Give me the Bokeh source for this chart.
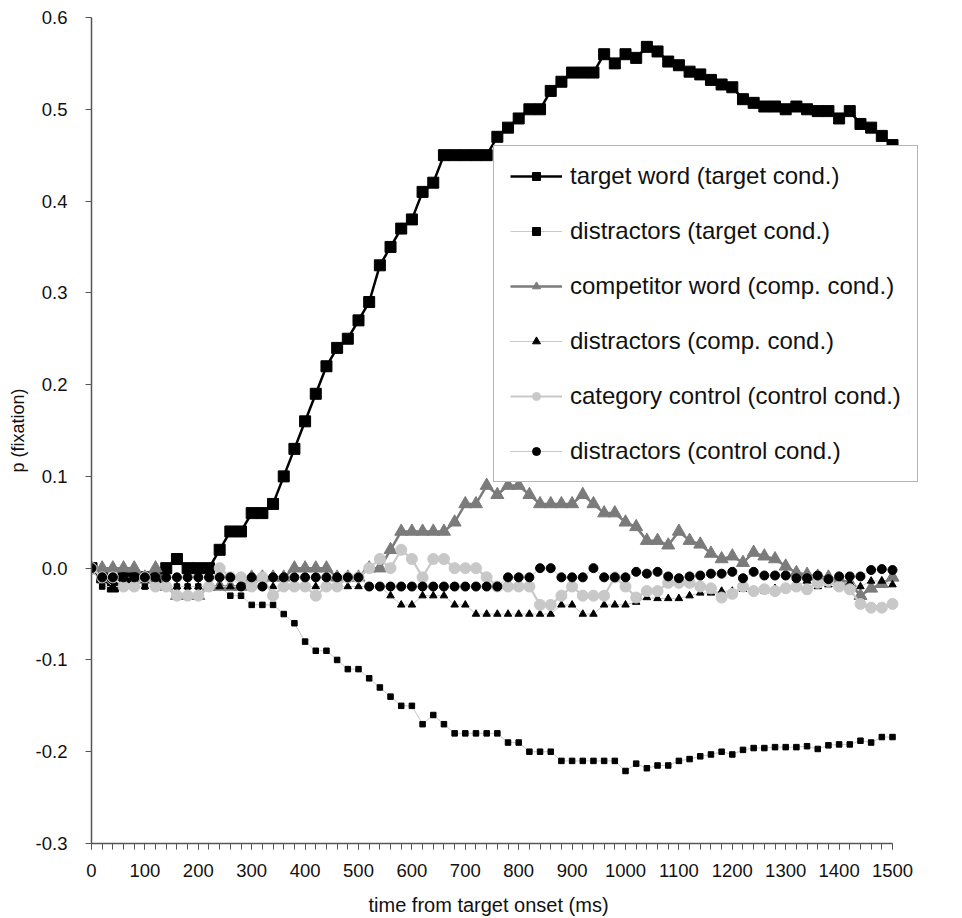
from bokeh.plotting import figure
from bokeh.models import Range1d, FixedTicker, PrintfTickFormatter, Legend, LegendItem, Title
from bokeh.embed import file_html
from bokeh.resources import INLINE

# ---------------- data ----------------
time_ms = [0, 20, 40, 60, 80, 100, 120, 140, 160, 180, 200, 220,
           240, 260, 280, 300, 320, 340, 360, 380, 400, 420, 440, 460, 480, 500,
           520, 540, 560, 580, 600, 620, 640, 660, 680, 700, 720, 740,
           760, 780, 800, 820, 840, 860, 880, 900, 920, 940, 960, 980, 1000,
           1020, 1040, 1060, 1080, 1100, 1120, 1140, 1160, 1180, 1200, 1220, 1240,
           1260, 1280, 1300, 1320, 1340, 1360, 1380, 1400, 1420, 1440, 1460, 1480, 1500]

target_word = [0.0, -0.01, -0.02, -0.01, -0.01, -0.01, -0.01, 0.0, 0.01, 0.0, 0.0, 0.0,
               0.02, 0.04, 0.04, 0.06, 0.06, 0.07, 0.10, 0.13, 0.16, 0.19, 0.22, 0.24, 0.25, 0.27,
               0.29, 0.33, 0.35, 0.37, 0.38, 0.41, 0.42, 0.45, 0.45, 0.45, 0.45, 0.45,
               0.47, 0.48, 0.49, 0.50, 0.50, 0.52, 0.53, 0.54, 0.54, 0.54, 0.56, 0.55, 0.56,
               0.556, 0.568, 0.563, 0.552, 0.548, 0.541, 0.538, 0.532, 0.527, 0.524, 0.511, 0.507,
               0.503, 0.503, 0.500, 0.503, 0.500, 0.498, 0.498, 0.490, 0.498, 0.484, 0.480, 0.471, 0.461]

target_distractors = [0.0, -0.02, -0.02, -0.02, -0.02, -0.02, -0.02, -0.02, -0.02, -0.02, -0.02, -0.02,
                      -0.02, -0.03, -0.03, -0.04, -0.04, -0.04, -0.05, -0.06, -0.08, -0.09, -0.09, -0.10, -0.11, -0.11,
                      -0.12, -0.13, -0.14, -0.15, -0.15, -0.17, -0.16, -0.17, -0.18, -0.18, -0.18, -0.18,
                      -0.18, -0.19, -0.19, -0.20, -0.20, -0.20, -0.21, -0.21, -0.21, -0.21, -0.21, -0.21, -0.221,
                      -0.213, -0.218, -0.215, -0.215, -0.210, -0.208, -0.205, -0.203, -0.200, -0.203, -0.198, -0.196,
                      -0.196, -0.195, -0.195, -0.195, -0.194, -0.197, -0.193, -0.192, -0.192, -0.188, -0.190, -0.184, -0.184]

competitor_word = [0.0, 0.0, 0.0, 0.0, 0.0, -0.01, 0.0, -0.02, -0.03, -0.03, -0.03, -0.02,
                   -0.02, -0.02, -0.02, -0.01, -0.01, -0.01, -0.01, 0.0, 0.0, 0.0, 0.0, -0.01, -0.01, -0.01,
                   0.0, 0.0, 0.02, 0.04, 0.04, 0.04, 0.04, 0.04, 0.05, 0.07, 0.07, 0.09,
                   0.08, 0.09, 0.09, 0.08, 0.07, 0.07, 0.07, 0.07, 0.08, 0.07, 0.06, 0.06, 0.05,
                   0.045, 0.03, 0.03, 0.025, 0.04, 0.03, 0.026, 0.016, 0.01, 0.013, 0.006, 0.017,
                   0.013, 0.01, 0.002, -0.005, -0.007, -0.009, -0.01, -0.012, -0.016, -0.03, -0.022, -0.017, -0.01]

comp_distractors = [0.0, -0.01, -0.02, -0.02, -0.02, -0.02, -0.02, -0.02, -0.02, -0.02, -0.02, -0.02,
                    -0.02, -0.02, -0.02, -0.02, -0.02, -0.02, -0.02, -0.02, -0.02, -0.02, -0.02, -0.02, -0.02, -0.02,
                    -0.02, -0.02, -0.03, -0.04, -0.04, -0.03, -0.03, -0.03, -0.04, -0.04, -0.05, -0.05,
                    -0.05, -0.05, -0.05, -0.05, -0.05, -0.05, -0.04, -0.04, -0.05, -0.05, -0.04, -0.04, -0.04,
                    -0.037, -0.032, -0.033, -0.033, -0.033, -0.030, -0.027, -0.027, -0.025, -0.025, -0.023, -0.024,
                    -0.025, -0.022, -0.021, -0.020, -0.014, -0.020, -0.018, -0.016, -0.016, -0.020, -0.014, -0.014, -0.018]

category_control = [0.0, -0.01, -0.01, -0.02, -0.02, -0.01, -0.02, -0.02, -0.03, -0.03, -0.03, -0.02,
                    0.0, -0.01, -0.01, -0.02, -0.01, -0.03, -0.02, -0.02, -0.02, -0.03, -0.02, -0.02, -0.01, -0.01,
                    0.0, 0.01, 0.0, 0.02, 0.01, -0.01, 0.01, 0.01, 0.0, 0.0, 0.0, -0.01,
                    -0.02, -0.02, -0.02, -0.02, -0.04, -0.04, -0.03, -0.02, -0.03, -0.03, -0.03, -0.01, -0.02,
                    -0.032, -0.025, -0.025, -0.016, -0.016, -0.016, -0.020, -0.022, -0.032, -0.028, -0.020, -0.025,
                    -0.023, -0.025, -0.022, -0.020, -0.023, -0.016, -0.014, -0.020, -0.023, -0.039, -0.043, -0.043, -0.039]

control_distractors = [0.0, -0.01, -0.01, -0.01, -0.01, -0.01, -0.01, -0.01, -0.01, -0.01, -0.01, -0.01,
                       -0.01, -0.01, -0.02, -0.01, -0.02, -0.01, -0.01, -0.01, -0.01, -0.01, -0.01, -0.01, -0.01, -0.01,
                       -0.02, -0.02, -0.02, -0.02, -0.02, -0.02, -0.02, -0.02, -0.02, -0.02, -0.02, -0.02,
                       -0.02, -0.01, -0.01, -0.01, 0.0, 0.0, -0.01, -0.01, -0.01, 0.0, -0.01, -0.01, -0.01,
                       -0.004, -0.006, -0.004, -0.009, -0.011, -0.009, -0.008, -0.006, -0.006, -0.004, -0.011, -0.004,
                       -0.008, -0.008, -0.008, -0.011, -0.011, -0.008, -0.012, -0.009, -0.009, -0.009, -0.002, -0.001, -0.002]

x_ticks = [0, 100, 200, 300, 400, 500, 600, 700, 800, 900, 1000, 1100, 1200, 1300, 1400, 1500]
y_ticks = [-0.3, -0.2, -0.1, 0.0, 0.1, 0.2, 0.3, 0.4, 0.5, 0.6]

series_labels = ["target word (target cond.)", "distractors (target cond.)",
                 "competitor word (comp. cond.)", "distractors (comp. cond.)",
                 "category control (control cond.)", "distractors (control cond.)"]

# ---------------- figure ----------------
FONT = "Liberation Sans"
AXIS_PX = 801          # pixel length of the 0..1500 ms axis
FRAME_W = 830          # frame extends a bit right so the legend box fits
X_END = 1500 * FRAME_W / AXIS_PX

p = figure(frame_width=FRAME_W, frame_height=826, output_backend="svg", toolbar_location=None,
           x_range=Range1d(0, X_END), y_range=Range1d(-0.3, 0.6),
           min_border_left=91, min_border_right=8, min_border_top=17, min_border_bottom=60)
p.xgrid.visible = False
p.ygrid.visible = False
p.outline_line_color = None
p.background_fill_color = "white"
p.border_fill_color = "white"

AX = "#555555"
xa = p.xaxis[0]
xa.ticker = FixedTicker(ticks=x_ticks, minor_ticks=time_ms)
xa.bounds = (0, 1500)
ya = p.yaxis[0]
ya.ticker = FixedTicker(ticks=y_ticks, minor_ticks=[])
ya.formatter = PrintfTickFormatter(format="%.1f")
ya.axis_label = "p (fixation)"
for ax in (xa, ya):
    ax.axis_line_color = AX
    ax.axis_line_width = 1.5
    ax.major_tick_line_color = AX
    ax.minor_tick_line_color = AX
    ax.major_tick_out = 6
    ax.major_tick_in = 0
    ax.minor_tick_out = 6
    ax.minor_tick_in = 0
    ax.major_label_text_font = FONT
    ax.major_label_text_font_size = "18.5px"
    ax.major_label_text_color = "#111111"
    ax.axis_label_text_font = FONT
    ax.axis_label_text_font_style = "normal"
    ax.axis_label_text_color = "#111111"
xa.major_label_standoff = 14
ya.major_label_standoff = 18
ya.axis_label_text_font_size = "18px"
ya.axis_label_standoff = 5

x_title = Title(text="time from target onset (ms)", align="left",
                offset=277, standoff=24,
                text_font=FONT, text_font_size="20px", text_font_style="normal",
                text_color="#111111")
p.add_layout(x_title, "below")

THIN = "#c8c8c8"
items = []

# target word
l = p.line(time_ms, target_word, line_color="black", line_width=2.5)
s = p.scatter(time_ms, target_word, marker="square", size=11, fill_color="black", line_color="black")
items.append(LegendItem(label=series_labels[0], renderers=[l, s]))
# distractors target
l = p.line(time_ms, target_distractors, line_color=THIN, line_width=1)
s = p.scatter(time_ms, target_distractors, marker="square", size=5.5, fill_color="black", line_color="black")
items.append(LegendItem(label=series_labels[1], renderers=[l, s]))
# competitor word
l = p.line(time_ms, competitor_word, line_color="#7b7b7b", line_width=2.5)
s = p.scatter(time_ms, competitor_word, marker="triangle", size=13, fill_color="#7b7b7b", line_color="#7b7b7b")
items.append(LegendItem(label=series_labels[2], renderers=[l, s]))
# distractors comp
l = p.line(time_ms, comp_distractors, line_color=THIN, line_width=1)
s = p.scatter(time_ms, comp_distractors, marker="triangle", size=7.5, fill_color="black", line_color="black")
items.append(LegendItem(label=series_labels[3], renderers=[l, s]))
# category control
l = p.line(time_ms, category_control, line_color=THIN, line_width=2.2)
s = p.scatter(time_ms, category_control, marker="circle", size=11, fill_color=THIN, line_color=THIN)
items.append(LegendItem(label=series_labels[4], renderers=[l, s]))
# distractors control
l = p.line(time_ms, control_distractors, line_color=THIN, line_width=1)
s = p.scatter(time_ms, control_distractors, marker="circle", size=9, fill_color="black", line_color="black")
items.append(LegendItem(label=series_labels[5], renderers=[l, s]))

legend = Legend(items=items, location=(402, 361))
legend.label_text_font = FONT
legend.label_text_font_size = "24px"
legend.label_text_color = "#111111"
legend.glyph_width = 52
legend.glyph_height = 20
legend.label_height = 20
legend.label_standoff = 8
legend.spacing = 27
legend.padding = 16
legend.margin = 0
legend.border_line_color = "#6a6a6a"
legend.border_line_width = 1.5
legend.background_fill_color = "white"
legend.background_fill_alpha = 1.0
p.add_layout(legend, "center")

open("out.html", "w").write(file_html(p, INLINE))
